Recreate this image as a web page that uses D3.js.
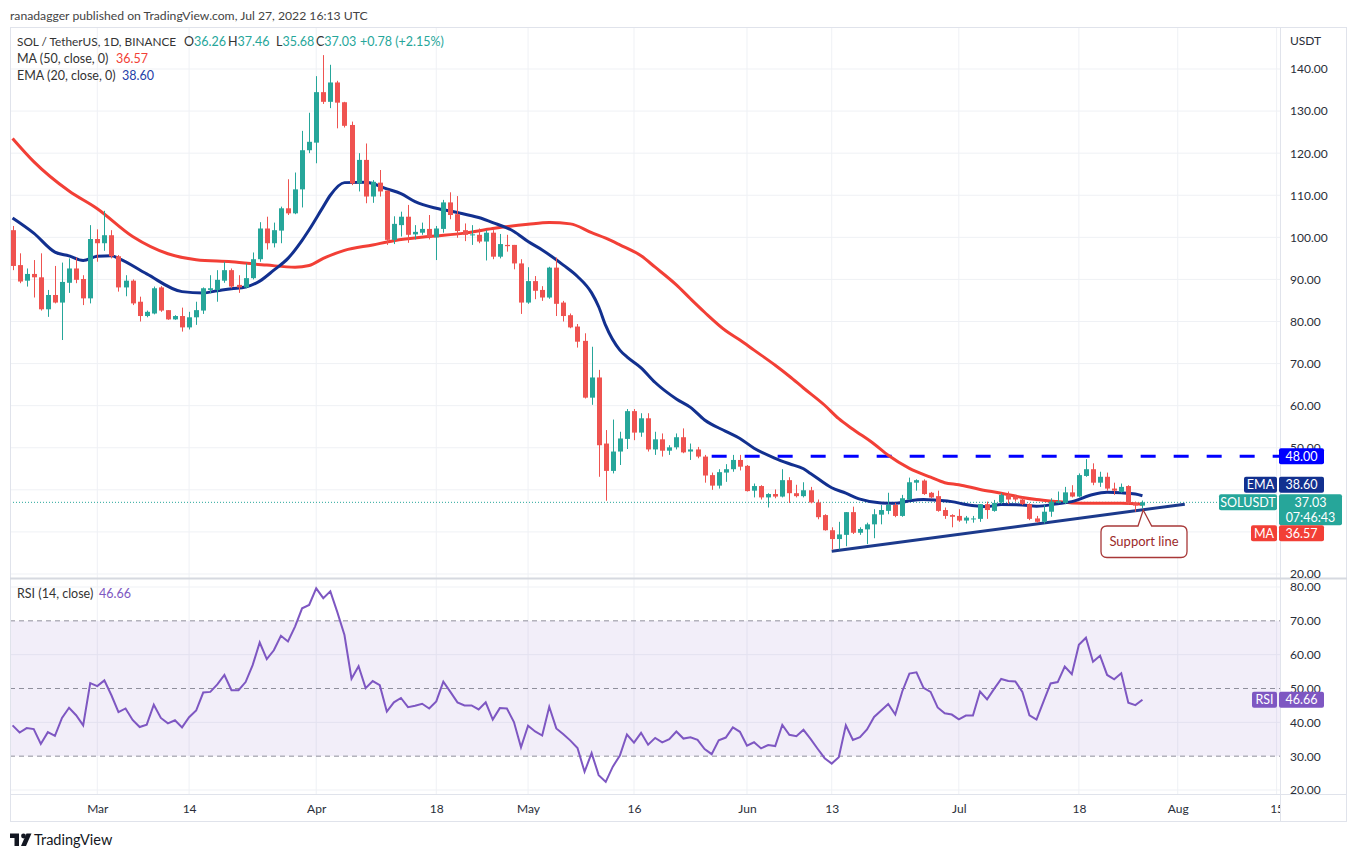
<!DOCTYPE html>
<html><head><meta charset="utf-8">
<script src="https://cdn.jsdelivr.net/npm/d3@7"></script>
<style>
body{margin:0;background:#fff;}
svg{display:block;font-family:Lato,"Liberation Sans",sans-serif;}
</style></head><body>
<svg id="c" width="1357" height="857"></svg>
<script>
// ---------- DATA ----------
const startDate = "2022-02-17";
const endDate = "2022-07-28"; // exclusive
const openP = [101.7,93.4,89.7,91.3,90.5,82.9,86.3,84.5,89.2,92.6,
 90.1,85.5,99.6,98.6,100.5,95.5,88.1,89.7,84.7,81.3,
 81.9,88.1,82.7,80.5,81.3,78.6,81.0,82.6,87.5,87.5,
 89.7,92.2,88.7,88.1,90.3,94.8,102.1,98.6,101.6,106.9,
 105.7,111.4,120.7,122.5,134.5,132.2,136.8,132.1,126.7,112.8,
 118.4,109.7,113.0,111.1,99.4,102.9,104.9,100.7,101.1,102.0,
 100.0,102.0,108.3,105.5,101.7,100.5,100.6,99.0,101.1,95.4,
 98.2,98.2,93.8,84.5,89.6,87.5,85.7,92.8,84.5,81.5,
 78.8,75.4,61.9,66.7,51.0,44.5,49.1,52.1,58.7,53.6,
 57.0,49.6,52.0,49.3,50.1,52.5,49.1,49.6,47.9,43.5,
 41.0,44.1,44.9,47.1,45.7,39.8,40.9,38.2,39.0,38.4,
 42.3,39.2,38.5,39.9,37.0,34.0,30.4,28.3,29.3,34.7,
 29.8,30.6,31.8,34.1,35.0,36.4,33.8,37.7,41.7,42.2,
 39.3,38.5,35.2,34.0,33.8,32.7,33.0,33.1,36.6,35.0,
 37.0,38.8,38.4,37.7,36.6,33.2,32.4,34.8,36.9,36.9,
 39.4,38.4,43.3,44.9,41.7,43.1,40.3,39.5,40.9,36.8,
 36.26];
const highP = [102.7,96.2,92.6,94.6,96.2,87.5,93.2,94.0,95.0,95.2,
 91.0,102.9,101.9,106.3,101.7,95.8,91.0,90.0,85.9,82.6,
 88.3,88.4,82.7,81.5,83.3,82.3,84.7,88.1,91.0,92.2,
 94.2,92.6,91.0,93.8,96.4,103.6,104.9,103.5,107.3,113.8,
 115.4,125.3,129.6,138.3,143.3,141.0,137.2,132.2,127.5,120.0,
 122.3,113.6,116.0,111.1,105.0,106.1,107.7,102.9,103.5,105.3,
 102.7,108.9,110.7,109.8,103.3,102.9,102.1,101.7,101.7,100.8,
 100.6,98.2,94.8,92.9,90.8,88.4,93.0,95.2,84.9,81.9,
 79.4,77.2,74.0,68.5,54.2,56.7,53.8,59.2,59.2,58.2,
 58.2,53.8,53.4,50.6,53.4,54.6,51.0,50.2,48.3,44.1,
 44.9,46.1,48.3,48.3,45.9,41.5,41.1,39.2,40.1,44.9,
 43.0,41.2,41.8,40.7,37.7,34.2,31.1,32.4,34.7,36.0,
 31.1,32.2,35.4,36.4,39.3,36.9,38.8,42.9,42.5,42.5,
 39.5,39.8,35.8,34.2,35.4,33.8,33.8,36.6,37.2,37.6,
 39.2,39.6,38.8,38.2,36.8,33.8,36.4,38.0,39.6,40.7,
 41.1,43.9,47.3,46.3,44.3,44.1,41.7,41.5,41.1,37.2,
 37.46];
const lowP = [92.2,89.1,88.3,85.7,82.6,81.1,84.3,75.6,86.8,89.1,
 83.9,84.3,94.2,96.8,95.0,87.1,86.0,83.9,80.0,81.0,
 81.7,82.3,80.4,80.4,77.6,78.1,79.2,81.8,86.7,84.7,
 89.2,87.9,86.8,87.9,90.0,94.2,97.1,97.6,98.6,105.3,
 105.5,107.1,120.0,117.6,131.7,130.7,125.9,126.1,112.4,110.9,
 108.1,108.2,109.7,98.2,98.4,100.2,98.7,99.5,100.6,99.5,
 94.6,101.1,104.3,99.9,99.1,98.2,98.6,94.5,94.8,95.0,
 96.6,92.4,81.8,84.2,85.3,84.9,85.4,81.3,80.0,78.4,
 73.8,61.7,60.2,43.1,37.4,43.9,45.9,49.7,51.8,52.6,
 49.1,48.3,47.9,48.3,49.6,48.7,47.1,47.5,41.7,40.0,
 40.3,41.9,44.3,44.6,39.6,38.2,37.7,35.8,38.0,38.2,
 36.9,38.2,38.2,36.8,33.0,30.3,25.8,25.8,26.6,29.5,
 29.3,27.1,28.5,31.8,34.2,33.5,33.6,37.6,39.8,38.8,
 38.0,34.8,33.1,31.1,32.4,32.0,32.2,32.4,33.1,34.8,
 36.6,36.6,37.2,36.4,32.8,32.2,32.0,33.6,36.8,36.6,
 38.2,38.2,43.1,41.1,40.7,39.8,38.8,39.3,36.4,34.8,
 35.68];
const closeP = [93.2,89.5,91.3,90.5,82.9,86.3,84.5,89.4,92.6,89.9,
 85.5,99.6,98.6,100.5,95.5,88.1,89.7,84.3,81.3,82.3,
 87.9,82.6,80.5,81.3,78.6,81.0,82.7,87.9,87.9,89.9,
 92.2,88.3,88.1,90.3,94.8,102.1,98.6,101.7,106.9,105.7,
 111.4,120.7,122.7,134.5,132.2,136.8,132.0,126.5,112.8,118.4,
 109.7,113.2,110.9,99.4,103.2,104.9,100.6,101.3,102.0,100.0,
 102.1,108.3,105.3,101.5,100.6,100.7,99.0,101.1,95.4,98.4,
 97.9,93.8,84.5,89.6,87.3,85.7,92.8,84.2,81.3,78.6,
 75.2,61.9,66.7,50.6,44.5,49.1,52.2,58.7,53.6,57.0,
 49.6,52.0,49.3,50.1,52.5,48.9,49.6,47.9,43.4,41.0,
 44.2,44.9,47.1,45.5,39.7,40.9,38.2,39.0,38.4,42.3,
 39.2,38.5,39.9,37.0,33.5,30.4,28.3,29.4,34.7,29.8,
 30.7,31.8,34.2,35.2,36.4,33.8,38.0,41.8,42.3,39.0,
 38.2,35.0,33.8,33.6,32.7,33.4,33.2,36.6,35.2,36.9,
 38.8,37.7,37.7,36.6,33.1,32.4,34.8,37.2,37.3,39.4,
 38.4,43.5,44.9,41.7,43.1,40.3,39.8,40.7,36.8,36.26,
 37.03];
const rsiValues = [39.1,37.0,38.3,38.0,33.6,37.1,36.0,41.3,44.3,42.1,
 39.1,51.6,50.7,52.4,48.0,43.0,44.1,40.7,38.6,39.3,
 45.2,41.3,39.7,40.6,38.5,41.5,43.5,48.8,49.0,51.2,
 54.0,49.5,49.5,51.9,56.9,63.6,58.7,61.3,65.6,63.9,
 68.3,73.7,74.7,79.6,76.7,78.7,72.5,65.8,52.9,56.6,
 50.1,52.2,51.0,43.2,45.9,47.2,44.5,44.9,45.5,44.1,
 46.2,52.0,49.0,45.9,45.0,45.0,43.8,45.9,40.8,44.2,
 44.1,40.1,32.6,39.0,37.3,36.1,44.6,38.2,36.5,34.6,
 32.4,25.4,30.9,24.4,22.4,26.9,30.2,36.4,34.0,36.9,
 33.4,35.4,34.1,35.0,37.3,35.2,35.6,34.8,32.1,30.6,
 34.7,35.5,38.5,37.2,33.1,34.1,32.3,33.3,33.0,39.2,
 36.3,35.9,37.8,35.1,32.2,29.4,27.8,29.7,39.1,34.8,
 35.6,37.9,41.6,43.5,45.4,42.3,49.2,54.4,54.8,50.2,
 49.0,44.4,42.7,42.3,40.9,42.0,42.0,49.1,46.8,49.9,
 52.8,52.2,52.1,49.0,42.1,40.8,46.2,51.5,51.9,56.5,
 54.2,62.9,65.0,57.9,59.7,54.0,52.7,54.5,45.8,45.1,
 46.66];
// MA(50) and EMA(20) at sample days (day index from startDate)
const maDays   = [0,3,8,12,17,22,26,31,36,40,42,44,47,51,54,59,64,68,73,76,79,82,84,86,89,91,94,96,98,101,103,105,108,110,112,115,117,119,122,124,127,130,132,134,137,140,143,145,148,150,153,157,160];
const maValues = [123.5,118.0,111.0,106.8,100.2,96.1,94.7,94.2,93.4,92.9,93.3,95.0,96.9,98.2,99.2,100.2,101.0,102.1,103.1,103.5,103.2,101.1,99.8,98.2,95.6,92.9,88.7,85.4,82.2,77.8,75.6,73.2,69.6,67.0,64.2,60.1,56.9,54.4,50.9,48.2,45.1,43.0,41.7,41.2,40.1,39.2,38.2,37.7,37.2,36.9,36.8,36.8,36.57];
const emaDays   = [0,3,6,8,10,12,14,15,19,24,27,29,31,33,35,37,39,41,42,44,45,47,50,53,55,57,60,63,66,68,71,73,75,78,80,82,83,84,86,87,89,91,94,96,98,101,103,105,108,110,112,113,116,118,120,123,125,127,129,131,133,135,138,140,143,145,148,150,153,155,157,159,160];
const emaValues = [104.6,101.0,96.5,95.6,94.5,95.5,95.6,95.0,91.3,87.1,86.8,87.3,87.8,88.2,89.6,92.2,95.0,99.3,101.8,107.3,110.0,113.0,113.1,111.5,110.4,108.5,106.9,105.9,104.7,103.5,101.4,99.0,97.0,93.4,90.7,86.8,83.5,79.0,73.2,71.6,69.0,65.5,61.6,59.6,56.6,53.9,52.2,49.9,47.5,46.2,45.0,43.9,40.5,39.2,37.8,36.9,36.8,37.4,37.7,37.5,37.2,36.5,36.0,36.5,36.4,36.1,36.7,37.2,38.9,39.4,39.3,39.0,38.6];
const priceTicks = [20,30,40,50,60,70,80,90,100,110,120,130,140];
const rsiTicks = [20,30,40,50,60,70,80];
const timeTickDates = ["2022-03-01","2022-03-14","2022-04-01","2022-04-18","2022-05-01","2022-05-16","2022-06-01","2022-06-13","2022-07-01","2022-07-18","2022-08-01","2022-08-15"];
const timeTickLabels = ["Mar","14","Apr","18","May","16","Jun","13","Jul","18","Aug","15"];
const resistance = {from:"2022-05-27", level:48};
const supportLine = [["2022-06-13",25.4],["2022-08-02",36.6]];
const lastClose = 37.03, lastMA = 36.57, lastEMA = 38.60, lastRSI = 46.66;

// ---------- LAYOUT ----------
const L=10,R=1280,T=27,SEP=578,RB=794,FB=822,RE=1347;
const GREEN="#26a69a",RED="#ef5350",MAC="#f23f36",EMAC="#12308f",PURP="#7e57c2",TXT="#2a2e39",GRID="#eff1f5",BORDER="#e0e3eb";
const svg=d3.select("#c");
const parse=d3.utcParse("%Y-%m-%d");
const start=parse(startDate);
const DAY=864e5;
const dates=d3.utcDay.range(start,parse(endDate));
const x=d3.scaleUtc().domain([new Date(+start-0.362*DAY),new Date(+start+179.48*DAY)]).range([L,R]);
const y=d3.scaleLinear().domain([20,140]).range([574,69]);
const yR=d3.scaleLinear().domain([20,80]).range([790,587]);
const dayX=i=>x(d3.utcDay.offset(start,i));

const defs=svg.append("defs");
defs.append("clipPath").attr("id","cp").append("rect").attr("x",L).attr("y",T).attr("width",R-L).attr("height",SEP-T);
defs.append("clipPath").attr("id","cr").append("rect").attr("x",L).attr("y",SEP).attr("width",R-L).attr("height",RB-SEP);
defs.append("clipPath").attr("id","ct").append("rect").attr("x",L).attr("y",RB).attr("width",R-L).attr("height",FB-RB);

// header
svg.append("text").attr("x",10).attr("y",19.5).attr("font-size",12.2).attr("fill","#444")
 .text("ranadagger published on TradingView.com, Jul 27, 2022 16:13 UTC");

// grid
const tickD=timeTickDates.map(parse);
svg.append("g").selectAll("line").data(tickD).join("line")
 .attr("x1",d=>x(d)).attr("x2",d=>x(d)).attr("y1",T).attr("y2",RB).attr("stroke",GRID);
svg.append("g").selectAll("line").data(priceTicks).join("line")
 .attr("x1",L).attr("x2",R).attr("y1",d=>y(d)).attr("y2",d=>y(d)).attr("stroke",GRID);
svg.append("g").selectAll("line").data(rsiTicks.filter(d=>d%20===0)).join("line")
 .attr("x1",L).attr("x2",R).attr("y1",d=>yR(d)).attr("y2",d=>yR(d)).attr("stroke",GRID);

// RSI band
const rg=svg.append("g").attr("clip-path","url(#cr)");
rg.append("rect").attr("x",L).attr("width",R-L).attr("y",yR(70)).attr("height",yR(30)-yR(70)).attr("fill","rgba(126,87,194,0.10)");
rg.selectAll("line.h").data([70,50,30]).join("line").attr("class","h")
 .attr("x1",L).attr("x2",R).attr("y1",d=>yR(d)).attr("y2",d=>yR(d))
 .attr("stroke","#8f8f9c").attr("stroke-dasharray","5,4");
rg.append("path").datum(rsiValues).attr("fill","none").attr("stroke",PURP).attr("stroke-width",2)
 .attr("d",d3.line().x((d,i)=>dayX(i)).y(d=>yR(d)));

// price panel
const pg=svg.append("g").attr("clip-path","url(#cp)");
pg.append("line").attr("x1",L).attr("x2",R).attr("y1",y(lastClose)).attr("y2",y(lastClose))
 .attr("stroke",GREEN).attr("stroke-dasharray","1,2");
pg.append("line").attr("x1",x(parse(resistance.from))).attr("x2",R).attr("y1",y(resistance.level)).attr("y2",y(resistance.level))
 .attr("stroke","#0000ff").attr("stroke-width",3).attr("stroke-dasharray","15,18");
const lineGen=d3.line().x(d=>dayX(d[0])).y(d=>y(d[1])).curve(d3.curveMonotoneX);
pg.append("path").datum(maDays.map((d,i)=>[d,maValues[i]])).attr("fill","none").attr("stroke",MAC).attr("stroke-width",3).attr("d",lineGen);
pg.append("path").datum(emaDays.map((d,i)=>[d,emaValues[i]])).attr("fill","none").attr("stroke",EMAC).attr("stroke-width",3).attr("d",lineGen);
pg.append("line").attr("x1",x(parse(supportLine[0][0]))).attr("y1",y(supportLine[0][1]))
 .attr("x2",x(parse(supportLine[1][0]))).attr("y2",y(supportLine[1][1]))
 .attr("stroke","#1c3a8c").attr("stroke-width",3);
const cg=pg.append("g");
const candles=dates.map((d,i)=>({d,o:openP[i],h:highP[i],l:lowP[i],c:closeP[i]}));
cg.selectAll("line").data(candles).join("line")
 .attr("x1",d=>Math.round(x(d.d))+0.5).attr("x2",d=>Math.round(x(d.d))+0.5)
 .attr("y1",d=>y(d.h)).attr("y2",d=>y(d.l)).attr("stroke",d=>d.c>=d.o?GREEN:RED);
cg.selectAll("rect").data(candles).join("rect")
 .attr("x",d=>Math.round(x(d.d))-2).attr("width",5)
 .attr("y",d=>y(Math.max(d.o,d.c))).attr("height",d=>Math.max(1,Math.abs(y(d.o)-y(d.c))))
 .attr("fill",d=>d.c>=d.o?GREEN:RED);

// borders
svg.append("rect").attr("x",L+0.5).attr("y",T+0.5).attr("width",RE-L-1).attr("height",FB-T-1).attr("fill","none").attr("stroke",BORDER);
svg.append("line").attr("x1",R+0.5).attr("x2",R+0.5).attr("y1",T).attr("y2",FB).attr("stroke",BORDER);
svg.append("line").attr("x1",L).attr("x2",RE).attr("y1",SEP+0.5).attr("y2",SEP+0.5).attr("stroke","#d6d9e0").attr("stroke-width",2);
svg.append("line").attr("x1",L).attr("x2",RE).attr("y1",RB+0.5).attr("y2",RB+0.5).attr("stroke",BORDER);

// right-axis label boxes (positions from values)
const yE=y(lastEMA)-11, yC=y(lastClose), yM=y(lastMA)+29, yRs=yR(lastRSI);
const boxes=[
 [1279,y(resistance.level)-8,45,16,"#0000ff",[resistance.level.toFixed(2)]],
 [1244,yE-8,33,16,EMAC,["EMA"]],
 [1279,yE-8,45,16,EMAC,[lastEMA.toFixed(2)]],
 [1219,yC-8,58,16,GREEN,["SOLUSDT"]],
 [1279,yC-8,63,31,GREEN,[lastClose.toFixed(2),"07:46:43"]],
 [1251,yM-8,26,16,MAC,["MA"]],
 [1279,yM-8,45,16,MAC,[lastMA.toFixed(2)]],
 [1252,yRs-8,25,16,PURP,["RSI"]],
 [1279,yRs-8,45,16,PURP,[lastRSI.toFixed(2)]]
];
const axisBoxes=boxes.filter(b=>b[0]>=1279);
const hidden=v=>axisBoxes.some(b=>v>=b[1]+2&&v<=b[1]+b[3]);

// axes
function styleAxis(g){g.select(".domain").remove();g.selectAll("text").attr("font-family","Lato,'Liberation Sans',sans-serif").attr("font-size",12).attr("fill",TXT);}
svg.append("g").attr("transform",`translate(${R},0)`)
 .call(d3.axisRight(y).tickValues(priceTicks.filter(v=>!hidden(y(v)))).tickFormat(d=>d.toFixed(2)).tickSize(0).tickPadding(10)).call(styleAxis);
svg.append("g").attr("transform",`translate(${R},0)`)
 .call(d3.axisRight(yR).tickValues(rsiTicks.filter(v=>!hidden(yR(v)))).tickFormat(d=>d.toFixed(2)).tickSize(0).tickPadding(10)).call(styleAxis);
svg.append("g").attr("clip-path","url(#ct)").append("g").attr("transform",`translate(0,${RB})`)
 .call(d3.axisBottom(x).tickValues(tickD).tickFormat((d,i)=>timeTickLabels[i]).tickSize(0).tickPadding(10)).call(styleAxis);
svg.append("text").attr("x",1290).attr("y",45).attr("font-size",12).attr("fill",TXT).text("USDT");

// legends
const lg=svg.append("g").attr("font-size",12.5).attr("fill","#333");
const t1=lg.append("text").attr("y",46);
t1.append("tspan").attr("x",17).attr("font-size",11.8).text("SOL / TetherUS, 1D, BINANCE");
[["O",184,openP[160]],["H",228,highP[160]],["L",276,lowP[160]],["C",316,closeP[160]]].forEach(([k,px,v])=>{
  t1.append("tspan").attr("x",px).text(k);
  t1.append("tspan").attr("fill",GREEN).text(v.toFixed(2));
});
t1.append("tspan").attr("x",360).attr("fill",GREEN).text("+0.78 (+2.15%)");
const t2=lg.append("text").attr("y",63);
t2.append("tspan").attr("x",17).text("MA (50, close, 0)");
t2.append("tspan").attr("x",116).attr("fill",MAC).text(lastMA.toFixed(2));
const t3=lg.append("text").attr("y",80);
t3.append("tspan").attr("x",17).text("EMA (20, close, 0)");
t3.append("tspan").attr("x",122).attr("fill","#2540a8").text(lastEMA.toFixed(2));
const t4=lg.append("text").attr("y",598);
t4.append("tspan").attr("x",17).text("RSI (14, close)");
t4.append("tspan").attr("x",99).attr("fill",PURP).text(lastRSI.toFixed(2));

// draw boxes
boxes.forEach(([x0,y0,w,h,fill,lines])=>{
  const g=svg.append("g");
  g.append("rect").attr("x",x0).attr("y",y0).attr("width",w).attr("height",h).attr("rx",2).attr("fill",fill);
  lines.forEach((t,k)=>g.append("text").attr("x",x0+w/2).attr("y",y0+12.5+k*15).attr("text-anchor","middle")
    .attr("font-size",12.5).attr("fill","#fff").text(t));
});

// callout
const ax=dayX(160)+0.8, ay=y(35.2);
const bx0=1101,bx1=1187,by0=526,by1=557.5,r=6;
svg.append("path").attr("fill","#fff").attr("stroke","#a83838").attr("stroke-width",1.3)
 .attr("d",`M${bx0+r},${by0} H1138 L${ax},${ay} L1151.7,${by0} H${bx1-r} Q${bx1},${by0} ${bx1},${by0+r} V${by1-r} Q${bx1},${by1} ${bx1-r},${by1} H${bx0+r} Q${bx0},${by1} ${bx0},${by1-r} V${by0+r} Q${bx0},${by0} ${bx0+r},${by0} Z`);
svg.append("text").attr("x",(bx0+bx1)/2).attr("y",546).attr("text-anchor","middle").attr("font-size",13).attr("fill","#9c2a2a").text("Support line");

// footer logo
const fg=svg.append("g").attr("fill","#131722");
fg.append("path").attr("d","M10,833.5 h9 v12.5 h-4.5 v-8 h-4.5 z");
fg.append("circle").attr("cx",23.5).attr("cy",836).attr("r",2.4);
fg.append("path").attr("d","M26.5,833.5 h5 l-5.5,12.5 h-5 z");
svg.append("text").attr("x",34).attr("y",845).attr("font-size",14.5).attr("fill","#131722").text("TradingView");
</script>
</body></html>
